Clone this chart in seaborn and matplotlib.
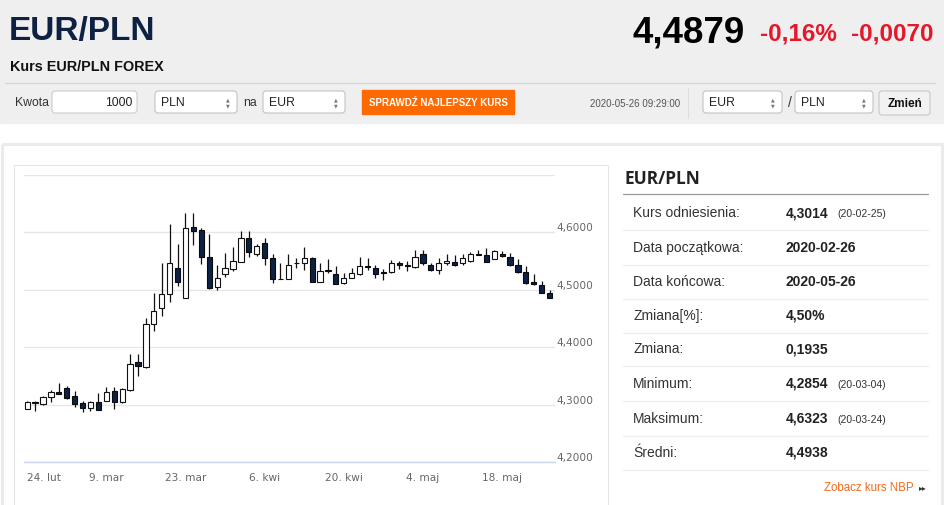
import numpy as np
import pandas as pd
import matplotlib
matplotlib.use("Agg")
import matplotlib.pyplot as plt
from matplotlib.patches import Rectangle, FancyBboxPatch
import seaborn as sns

# --- data: EUR/PLN daily candles, 24 Feb - 26 May 2020 ---
days = pd.bdate_range("2020-02-24", "2020-05-26")
opens = [4.293, 4.304, 4.301, 4.314, 4.322, 4.329, 4.315, 4.303, 4.294, 4.305,
         4.307, 4.323, 4.304, 4.326, 4.374, 4.365, 4.440, 4.468, 4.493, 4.538,
         4.485, 4.610, 4.604, 4.558, 4.505, 4.527, 4.537, 4.549, 4.591, 4.562,
         4.581, 4.556, 4.518, 4.518, 4.546, 4.546, 4.556, 4.514, 4.535, 4.527,
         4.512, 4.521, 4.528, 4.542, 4.538, 4.531, 4.531, 4.546, 4.543, 4.539,
         4.562, 4.544, 4.535, 4.546, 4.549, 4.546, 4.550, 4.562, 4.561, 4.553,
         4.562, 4.557, 4.544, 4.531, 4.513, 4.509, 4.495]
closes = [4.304, 4.302, 4.314, 4.322, 4.318, 4.311, 4.301, 4.294, 4.304, 4.291,
          4.322, 4.304, 4.327, 4.370, 4.368, 4.440, 4.463, 4.493, 4.546, 4.514,
          4.608, 4.603, 4.557, 4.504, 4.521, 4.538, 4.550, 4.591, 4.566, 4.577,
          4.555, 4.518, 4.519, 4.544, 4.547, 4.556, 4.514, 4.533, 4.532, 4.510,
          4.521, 4.529, 4.541, 4.540, 4.527, 4.529, 4.546, 4.543, 4.541, 4.557,
          4.547, 4.534, 4.546, 4.550, 4.543, 4.555, 4.563, 4.560, 4.548, 4.567,
          4.559, 4.544, 4.531, 4.511, 4.510, 4.495, 4.486]
highs = [4.306, 4.306, 4.315, 4.325, 4.337, 4.333, 4.323, 4.306, 4.307, 4.320,
         4.331, 4.330, 4.329, 4.388, 4.388, 4.451, 4.495, 4.547, 4.615, 4.579,
         4.633, 4.633, 4.607, 4.597, 4.543, 4.564, 4.575, 4.602, 4.603, 4.579,
         4.591, 4.562, 4.546, 4.562, 4.556, 4.575, 4.557, 4.546, 4.553, 4.542,
         4.529, 4.538, 4.558, 4.556, 4.543, 4.537, 4.552, 4.550, 4.550, 4.570,
         4.569, 4.546, 4.556, 4.562, 4.560, 4.562, 4.565, 4.570, 4.573, 4.569,
         4.568, 4.564, 4.553, 4.542, 4.527, 4.515, 4.499]
lows = [4.292, 4.288, 4.300, 4.305, 4.318, 4.309, 4.295, 4.287, 4.289, 4.291,
        4.306, 4.292, 4.303, 4.324, 4.350, 4.364, 4.428, 4.455, 4.479, 4.506,
        4.485, 4.578, 4.545, 4.502, 4.499, 4.522, 4.533, 4.549, 4.557, 4.559,
        4.544, 4.512, 4.518, 4.518, 4.538, 4.534, 4.514, 4.514, 4.529, 4.510,
        4.510, 4.520, 4.525, 4.534, 4.521, 4.517, 4.529, 4.537, 4.532, 4.538,
        4.544, 4.532, 4.527, 4.543, 4.542, 4.543, 4.548, 4.560, 4.548, 4.553,
        4.558, 4.542, 4.530, 4.510, 4.509, 4.494, 4.486]
tick_idx = [0, 10, 20, 30, 40, 50, 60]
tick_labels = ["24. lut", "9. mar", "23. mar", "6. kwi", "20. kwi", "4. maj", "18. maj"]
y_ticks = [4.2, 4.3, 4.4, 4.5, 4.6, 4.7]
y_labels = ["4,2000", "4,3000", "4,4000", "4,5000", "4,6000", ""]

stat_names = ["Kurs odniesienia:", "Data początkowa:", "Data końcowa:", "Zmiana[%]:",
              "Zmiana:", "Minimum:", "Maksimum:", "Średni:"]
stat_values = ["4,3014", "2020-02-26", "2020-05-26", "4,50%", "0,1935",
               "4,2854", "4,6323", "4,4938"]
stat_dates = ["(20-02-25)", "", "", "", "", "(20-03-04)", "(20-03-24)", ""]

sns.set_style("white")
ARIAL = ["Liberation Sans", "DejaVu Sans"]
plt.rcParams["font.family"] = ARIAL

df = pd.DataFrame({"day": days, "open": opens, "high": highs, "low": lows, "close": closes})
df["x"] = np.arange(len(df))
df["up"] = df["close"] >= df["open"]

W, H = 945, 506
fig = plt.figure(figsize=(W / 100, H / 100), dpi=100)
fig.patch.set_facecolor("white")

# page chrome in pixel coordinates
bg = fig.add_axes([0, 0, 1, 1])
bg.set_xlim(0, W)
bg.set_ylim(H, 0)
bg.axis("off")

bg.add_patch(Rectangle((0, 0), W, 124, color="#efefef", zorder=0))
bg.add_patch(Rectangle((1.5, 144.5), 940, 400, fill=False, ec="#ebebeb", lw=2.2))
bg.add_patch(Rectangle((14, 166), 594, 400, fill=False, ec="#e6e6e6", lw=0.8))

bg.text(9, 31, "EUR/PLN", fontsize=24, weight="bold", color="#0e2142", va="center")
bg.text(10, 67, "Kurs EUR/PLN FOREX", fontsize=10.4, weight="bold",
        color="#111111", va="center")
bg.plot([5, 935], [83.5, 83.5], color="#d3d3d3", lw=0.9)

bg.text(745, 33, "4,4879", fontsize=26.5, weight="bold", color="black",
        va="center", ha="right")
bg.text(760, 34, "-0,16%", fontsize=17.5, weight="bold", color="#e4172b",
        va="center")
bg.text(933, 34, "-0,0070", fontsize=17.5, weight="bold", color="#e4172b",
        va="center", ha="right")


def box(x0, x1, y0=92, y1=114, fc="white", ec="#c3c3c3"):
    bg.add_patch(FancyBboxPatch((x0, y0), x1 - x0, y1 - y0, fc=fc, ec=ec, lw=0.8,
                                boxstyle="round,pad=0,rounding_size=3"))


def select(x0, x1, label):
    box(x0, x1)
    bg.text(x0 + 6, 103, label, fontsize=8.8, color="#222222", va="center")
    bg.text(x1 - 9, 100, "▲", fontsize=3.5, color="#777777", va="center", ha="center",
            family="DejaVu Sans")
    bg.text(x1 - 9, 106, "▼", fontsize=3.5, color="#777777", va="center", ha="center",
            family="DejaVu Sans")


bg.text(15, 103, "Kwota", fontsize=8.8, color="#333333", va="center")
box(52, 137, ec="#cccccc")
bg.text(132, 103, "1000", fontsize=8.8, color="#222222", va="center", ha="right")
select(155, 237, "PLN")
bg.text(243, 103, "na", fontsize=8.8, color="#333333", va="center")
select(263, 345, "EUR")
bg.add_patch(Rectangle((362, 91), 152, 24, color="#ff6a00"))
bg.text(438, 103, "SPRAWDŹ NAJLEPSZY KURS", fontsize=7, weight="bold",
        color="white", va="center", ha="center")
bg.text(680, 104, "2020-05-26 09:29:00", fontsize=7, color="#555555",
        va="center", ha="right")
bg.plot([687.5, 687.5], [89, 119], color="#dddddd", lw=0.8)
select(703, 782, "EUR")
bg.text(788, 103, "/", fontsize=10, color="#333333", va="center")
select(795, 873, "PLN")
box(879, 930, 92, 116, fc="#f2f2f2", ec="#c8c8c8")
bg.text(904.5, 104, "Zmień", fontsize=8.5, weight="bold", color="#111111",
        va="center", ha="center")

# right stats panel
bg.text(624, 179, "EUR/PLN", family=["Open Sans", "DejaVu Sans"], fontsize=12.5,
        weight="bold", color="#222222", va="center")
bg.plot([623, 928], [195, 195], color="#9a9a9a", lw=0.9)
row_y = [213, 248, 282, 316, 349, 384, 419, 453]
for i, (name, val, dt) in enumerate(zip(stat_names, stat_values, stat_dates)):
    y = row_y[i]
    bg.text(633, y, name, fontsize=10, color="#333333", va="center")
    bg.text(786, y, val, fontsize=10, weight="bold", color="#222222", va="center")
    if dt:
        bg.text(837, y + 1, dt, fontsize=7.5, color="#333333", va="center")
    bg.plot([623, 928], [y + 17.5, y + 17.5], color="#eeeeee", lw=0.9)
bg.text(914, 488, "Zobacz kurs NBP", fontsize=8.3, color="#f26a1b", va="center", ha="right")
bg.text(919, 488, "▸▸", fontsize=5.5, color="#333333", va="center",
        family="DejaVu Sans")

# candlestick chart
ax = fig.add_axes([24 / W, (H - 463) / H, (555 - 24) / W, (463 - 176) / H])
ax.set_facecolor("none")
up = df[df["up"]]
dn = df[~df["up"]]
ax.vlines(df["x"], df["low"], df["high"], color="#111111", lw=0.9, zorder=2)
ax.bar(up["x"], (up["close"] - up["open"]).clip(lower=0.0008), bottom=up["open"],
       width=0.66, color="white", edgecolor="#111111", lw=0.8, zorder=3)
ax.bar(dn["x"], (dn["open"] - dn["close"]).clip(lower=0.0008), bottom=dn["close"],
       width=0.66, color="#0c2244", edgecolor="#0a0a0a", lw=0.8, zorder=3)

ax.set_xlim(-0.40, 66.68)
ax.set_ylim(4.2, 4.7)
ax.set_yticks(y_ticks)
ax.set_yticklabels(y_labels)
ax.yaxis.tick_right()
ax.grid(axis="y", color="#e6e6e6", lw=1)
ax.grid(axis="x", visible=False)
ax.set_xticks(tick_idx)
ax.set_xticklabels(tick_labels)
ax.tick_params(axis="y", length=0, pad=1, labelsize=7.6, labelcolor="#666666")
ax.tick_params(axis="x", length=7, width=1, color="#ccd6eb", pad=0.5, labelsize=7.6,
               labelcolor="#666666", direction="out")
for lab in ax.get_yticklabels():
    lab.set_family("DejaVu Sans")
    lab.set_va("bottom")
for lab in ax.get_xticklabels():
    lab.set_family("DejaVu Sans")
ax.get_xticklabels()[0].set_ha("left")
sns.despine(ax=ax, left=True, right=True, top=True)
ax.spines["bottom"].set_color("#ccd6eb")
ax.spines["bottom"].set_linewidth(1)

fig.savefig("out.png", dpi=100)
